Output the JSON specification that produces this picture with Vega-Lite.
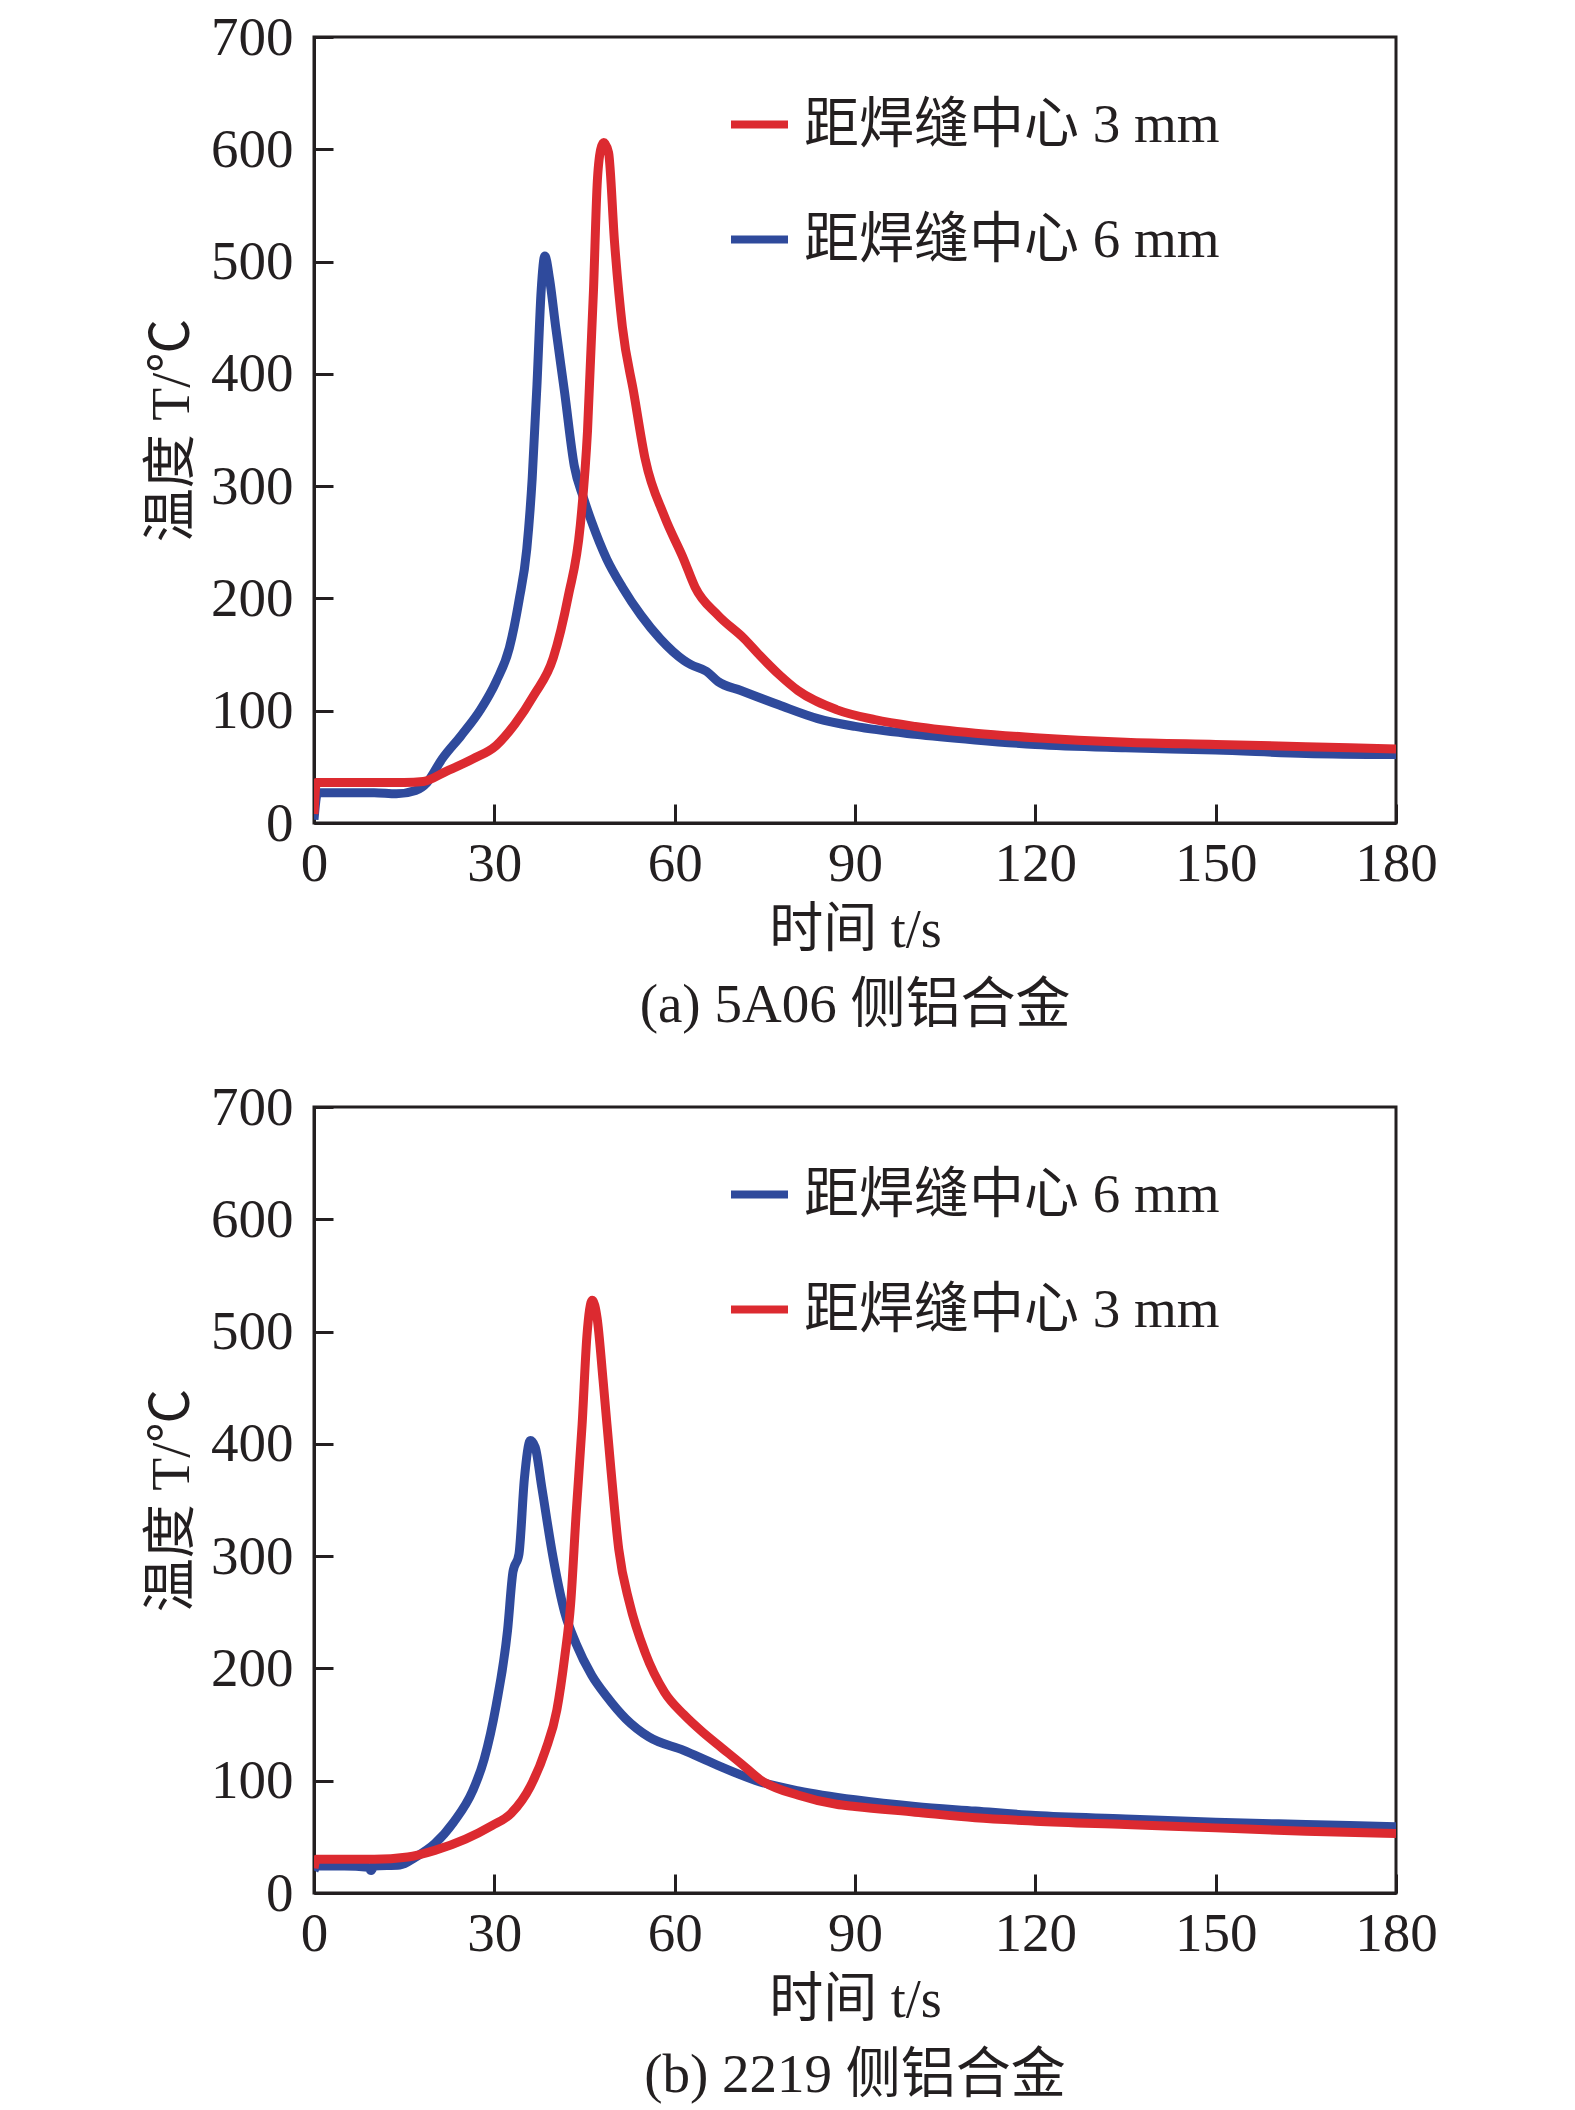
{
  "$schema": "https://vega.github.io/schema/vega-lite/v6.json",
  "background": "white",
  "padding": {"top": 8, "left": 144, "right": 10, "bottom": 5},
  "spacing": 43,
  "config": {
    "font": "Liberation Serif, Noto Sans CJK SC",
    "view": {"stroke": "#231f20", "strokeWidth": 3},
    "axis": {
      "grid": false,
      "zindex": 1,
      "domainColor": "#231f20",
      "domainWidth": 3,
      "tickColor": "#231f20",
      "tickWidth": 3,
      "tickSize": -19,
      "labelFont": "Liberation Serif",
      "labelFontSize": 55,
      "labelColor": "#231f20",
      "labelFlush": false,
      "labelOverlap": false,
      "titleFont": "Liberation Serif, Noto Sans CJK SC",
      "titleFontSize": 54,
      "titleFontWeight": "normal",
      "titleColor": "#231f20"
    },
    "legend": {
      "orient": "none",
      "legendX": 413,
      "legendY": 55,
      "symbolType": "stroke",
      "symbolStrokeWidth": 8,
      "symbolSize": 3249,
      "labelFont": "Liberation Serif, Noto Sans CJK SC",
      "labelFontSize": 55,
      "labelColor": "#231f20",
      "labelOffset": 12,
      "rowPadding": 54,
      "labelLimit": 0
    },
    "title": {
      "orient": "bottom",
      "offset": 22,
      "fontSize": 55,
      "fontWeight": "normal",
      "font": "Liberation Serif, Noto Sans CJK SC",
      "color": "#231f20",
      "anchor": "middle"
    }
  },
  "datasets": {
    "a": [
      {"s": "距焊缝中心 6 mm", "t": 0, "T": 3},
      {"s": "距焊缝中心 6 mm", "t": 0.6, "T": 27},
      {"s": "距焊缝中心 6 mm", "t": 5, "T": 27},
      {"s": "距焊缝中心 6 mm", "t": 10, "T": 27},
      {"s": "距焊缝中心 6 mm", "t": 13.7, "T": 26},
      {"s": "距焊缝中心 6 mm", "t": 16.9, "T": 29},
      {"s": "距焊缝中心 6 mm", "t": 18.8, "T": 36},
      {"s": "距焊缝中心 6 mm", "t": 21.3, "T": 57},
      {"s": "距焊缝中心 6 mm", "t": 24.5, "T": 78},
      {"s": "距焊缝中心 6 mm", "t": 27.7, "T": 101},
      {"s": "距焊缝中心 6 mm", "t": 30.3, "T": 126},
      {"s": "距焊缝中心 6 mm", "t": 32.5, "T": 156},
      {"s": "距焊缝中心 6 mm", "t": 34.1, "T": 198},
      {"s": "距焊缝中心 6 mm", "t": 35.4, "T": 244},
      {"s": "距焊缝中心 6 mm", "t": 36.3, "T": 307},
      {"s": "距焊缝中心 6 mm", "t": 37.1, "T": 391},
      {"s": "距焊缝中心 6 mm", "t": 37.8, "T": 475},
      {"s": "距焊缝中心 6 mm", "t": 38.4, "T": 505},
      {"s": "距焊缝中心 6 mm", "t": 39.2, "T": 484},
      {"s": "距焊缝中心 6 mm", "t": 40.2, "T": 442},
      {"s": "距焊缝中心 6 mm", "t": 41.7, "T": 383},
      {"s": "距焊缝中心 6 mm", "t": 43.3, "T": 318},
      {"s": "距焊缝中心 6 mm", "t": 44.8, "T": 290},
      {"s": "距焊缝中心 6 mm", "t": 46.2, "T": 268},
      {"s": "距焊缝中心 6 mm", "t": 48.7, "T": 235},
      {"s": "距焊缝中心 6 mm", "t": 51.3, "T": 210},
      {"s": "距焊缝中心 6 mm", "t": 54.4, "T": 185},
      {"s": "距焊缝中心 6 mm", "t": 57.6, "T": 164},
      {"s": "距焊缝中心 6 mm", "t": 61.5, "T": 145},
      {"s": "距焊缝中心 6 mm", "t": 62.7, "T": 141},
      {"s": "距焊缝中心 6 mm", "t": 65.3, "T": 135},
      {"s": "距焊缝中心 6 mm", "t": 67.2, "T": 126},
      {"s": "距焊缝中心 6 mm", "t": 71, "T": 118},
      {"s": "距焊缝中心 6 mm", "t": 77.4, "T": 105},
      {"s": "距焊缝中心 6 mm", "t": 83.8, "T": 93},
      {"s": "距焊缝中心 6 mm", "t": 90, "T": 86},
      {"s": "距焊缝中心 6 mm", "t": 100, "T": 79},
      {"s": "距焊缝中心 6 mm", "t": 110, "T": 74},
      {"s": "距焊缝中心 6 mm", "t": 120, "T": 70},
      {"s": "距焊缝中心 6 mm", "t": 135, "T": 67},
      {"s": "距焊缝中心 6 mm", "t": 150, "T": 65},
      {"s": "距焊缝中心 6 mm", "t": 165, "T": 62},
      {"s": "距焊缝中心 6 mm", "t": 180, "T": 61},
      {"s": "距焊缝中心 3 mm", "t": 0, "T": 8},
      {"s": "距焊缝中心 3 mm", "t": 0.4, "T": 36},
      {"s": "距焊缝中心 3 mm", "t": 5, "T": 36},
      {"s": "距焊缝中心 3 mm", "t": 10, "T": 36},
      {"s": "距焊缝中心 3 mm", "t": 15, "T": 36},
      {"s": "距焊缝中心 3 mm", "t": 18.2, "T": 37},
      {"s": "距焊缝中心 3 mm", "t": 22, "T": 46},
      {"s": "距焊缝中心 3 mm", "t": 26.4, "T": 57},
      {"s": "距焊缝中心 3 mm", "t": 30.3, "T": 69},
      {"s": "距焊缝中心 3 mm", "t": 33.4, "T": 88},
      {"s": "距焊缝中心 3 mm", "t": 36.6, "T": 114},
      {"s": "距焊缝中心 3 mm", "t": 39.8, "T": 147},
      {"s": "距焊缝中心 3 mm", "t": 42.3, "T": 202},
      {"s": "距焊缝中心 3 mm", "t": 44.3, "T": 265},
      {"s": "距焊缝中心 3 mm", "t": 45.5, "T": 349},
      {"s": "距焊缝中心 3 mm", "t": 46.5, "T": 475},
      {"s": "距焊缝中心 3 mm", "t": 47.1, "T": 568},
      {"s": "距焊缝中心 3 mm", "t": 47.7, "T": 600},
      {"s": "距焊缝中心 3 mm", "t": 48.2, "T": 606},
      {"s": "距焊缝中心 3 mm", "t": 49, "T": 597},
      {"s": "距焊缝中心 3 mm", "t": 50, "T": 517},
      {"s": "距焊缝中心 3 mm", "t": 51.3, "T": 442},
      {"s": "距焊缝中心 3 mm", "t": 53.2, "T": 383},
      {"s": "距焊缝中心 3 mm", "t": 55.1, "T": 324},
      {"s": "距焊缝中心 3 mm", "t": 58.3, "T": 273},
      {"s": "距焊缝中心 3 mm", "t": 61.5, "T": 235},
      {"s": "距焊缝中心 3 mm", "t": 63.4, "T": 210},
      {"s": "距焊缝中心 3 mm", "t": 67.2, "T": 185},
      {"s": "距焊缝中心 3 mm", "t": 71.6, "T": 164},
      {"s": "距焊缝中心 3 mm", "t": 74.2, "T": 149},
      {"s": "距焊缝中心 3 mm", "t": 77.4, "T": 132},
      {"s": "距焊缝中心 3 mm", "t": 80.5, "T": 118},
      {"s": "距焊缝中心 3 mm", "t": 86.9, "T": 101},
      {"s": "距焊缝中心 3 mm", "t": 93.3, "T": 92},
      {"s": "距焊缝中心 3 mm", "t": 100, "T": 86},
      {"s": "距焊缝中心 3 mm", "t": 110, "T": 80},
      {"s": "距焊缝中心 3 mm", "t": 120, "T": 76},
      {"s": "距焊缝中心 3 mm", "t": 135, "T": 72},
      {"s": "距焊缝中心 3 mm", "t": 150, "T": 70},
      {"s": "距焊缝中心 3 mm", "t": 165, "T": 68},
      {"s": "距焊缝中心 3 mm", "t": 180, "T": 66}
    ],
    "b": [
      {"s": "距焊缝中心 6 mm", "t": 0, "T": 20},
      {"s": "距焊缝中心 6 mm", "t": 0.5, "T": 24},
      {"s": "距焊缝中心 6 mm", "t": 5, "T": 24},
      {"s": "距焊缝中心 6 mm", "t": 9, "T": 23},
      {"s": "距焊缝中心 6 mm", "t": 9.5, "T": 20},
      {"s": "距焊缝中心 6 mm", "t": 10, "T": 24},
      {"s": "距焊缝中心 6 mm", "t": 14.3, "T": 25},
      {"s": "距焊缝中心 6 mm", "t": 16.9, "T": 32},
      {"s": "距焊缝中心 6 mm", "t": 20.1, "T": 44},
      {"s": "距焊缝中心 6 mm", "t": 23.2, "T": 63},
      {"s": "距焊缝中心 6 mm", "t": 26.4, "T": 91},
      {"s": "距焊缝中心 6 mm", "t": 28.3, "T": 119},
      {"s": "距焊缝中心 6 mm", "t": 30.3, "T": 167},
      {"s": "距焊缝中心 6 mm", "t": 32.2, "T": 234},
      {"s": "距焊缝中心 6 mm", "t": 33.1, "T": 286},
      {"s": "距焊缝中心 6 mm", "t": 34.1, "T": 302},
      {"s": "距焊缝中心 6 mm", "t": 35, "T": 369},
      {"s": "距焊缝中心 6 mm", "t": 36, "T": 403},
      {"s": "距焊缝中心 6 mm", "t": 36.8, "T": 397},
      {"s": "距焊缝中心 6 mm", "t": 37.9, "T": 361},
      {"s": "距焊缝中心 6 mm", "t": 39.8, "T": 298},
      {"s": "距焊缝中心 6 mm", "t": 41.7, "T": 250},
      {"s": "距焊缝中心 6 mm", "t": 43.6, "T": 222},
      {"s": "距焊缝中心 6 mm", "t": 46.2, "T": 194},
      {"s": "距焊缝中心 6 mm", "t": 48.7, "T": 175},
      {"s": "距焊缝中心 6 mm", "t": 51.9, "T": 155},
      {"s": "距焊缝中心 6 mm", "t": 55.7, "T": 139},
      {"s": "距焊缝中心 6 mm", "t": 61.5, "T": 127},
      {"s": "距焊缝中心 6 mm", "t": 66.6, "T": 115},
      {"s": "距焊缝中心 6 mm", "t": 74.2, "T": 99},
      {"s": "距焊缝中心 6 mm", "t": 80.6, "T": 91},
      {"s": "距焊缝中心 6 mm", "t": 90, "T": 83},
      {"s": "距焊缝中心 6 mm", "t": 100, "T": 77},
      {"s": "距焊缝中心 6 mm", "t": 110, "T": 73},
      {"s": "距焊缝中心 6 mm", "t": 120, "T": 69},
      {"s": "距焊缝中心 6 mm", "t": 135, "T": 66},
      {"s": "距焊缝中心 6 mm", "t": 150, "T": 63},
      {"s": "距焊缝中心 6 mm", "t": 165, "T": 61},
      {"s": "距焊缝中心 6 mm", "t": 180, "T": 59},
      {"s": "距焊缝中心 3 mm", "t": 0, "T": 22},
      {"s": "距焊缝中心 3 mm", "t": 0.4, "T": 30},
      {"s": "距焊缝中心 3 mm", "t": 5, "T": 30},
      {"s": "距焊缝中心 3 mm", "t": 10, "T": 30},
      {"s": "距焊缝中心 3 mm", "t": 15.6, "T": 32},
      {"s": "距焊缝中心 3 mm", "t": 20.1, "T": 38},
      {"s": "距焊缝中心 3 mm", "t": 25.2, "T": 48},
      {"s": "距焊缝中心 3 mm", "t": 29.6, "T": 60},
      {"s": "距焊缝中心 3 mm", "t": 32.8, "T": 71},
      {"s": "距焊缝中心 3 mm", "t": 36, "T": 95},
      {"s": "距焊缝中心 3 mm", "t": 38.5, "T": 127},
      {"s": "距焊缝中心 3 mm", "t": 40.4, "T": 163},
      {"s": "距焊缝中心 3 mm", "t": 41.7, "T": 210},
      {"s": "距焊缝中心 3 mm", "t": 42.7, "T": 258},
      {"s": "距焊缝中心 3 mm", "t": 43.6, "T": 337},
      {"s": "距焊缝中心 3 mm", "t": 44.6, "T": 417},
      {"s": "距焊缝中心 3 mm", "t": 45.4, "T": 496},
      {"s": "距焊缝中心 3 mm", "t": 46.3, "T": 528},
      {"s": "距焊缝中心 3 mm", "t": 47.1, "T": 512},
      {"s": "距焊缝中心 3 mm", "t": 48.1, "T": 456},
      {"s": "距焊缝中心 3 mm", "t": 49.4, "T": 377},
      {"s": "距焊缝中心 3 mm", "t": 50.7, "T": 306},
      {"s": "距焊缝中心 3 mm", "t": 52.5, "T": 258},
      {"s": "距焊缝中心 3 mm", "t": 55.1, "T": 214},
      {"s": "距焊缝中心 3 mm", "t": 58.3, "T": 179},
      {"s": "距焊缝中心 3 mm", "t": 61.5, "T": 159},
      {"s": "距焊缝中心 3 mm", "t": 64.7, "T": 143},
      {"s": "距焊缝中心 3 mm", "t": 67.9, "T": 129},
      {"s": "距焊缝中心 3 mm", "t": 71.1, "T": 115},
      {"s": "距焊缝中心 3 mm", "t": 74.2, "T": 101},
      {"s": "距焊缝中心 3 mm", "t": 80.6, "T": 87},
      {"s": "距焊缝中心 3 mm", "t": 86.9, "T": 79},
      {"s": "距焊缝中心 3 mm", "t": 90, "T": 77},
      {"s": "距焊缝中心 3 mm", "t": 100, "T": 72},
      {"s": "距焊缝中心 3 mm", "t": 110, "T": 67},
      {"s": "距焊缝中心 3 mm", "t": 120, "T": 64},
      {"s": "距焊缝中心 3 mm", "t": 135, "T": 61},
      {"s": "距焊缝中心 3 mm", "t": 150, "T": 58},
      {"s": "距焊缝中心 3 mm", "t": 165, "T": 55},
      {"s": "距焊缝中心 3 mm", "t": 180, "T": 53}
    ]
  },
  "resolve": {"scale": {"color": "independent"}, "legend": {"color": "independent"}},
  "vconcat": [
    {
      "width": 1082,
      "height": 786,
      "title": "(a) 5A06 侧铝合金",
      "data": {"name": "a"},
      "mark": {"type": "line", "strokeWidth": 9, "interpolate": "monotone", "clip": true},
      "encoding": {
        "x": {
          "field": "t", "type": "quantitative",
          "scale": {"domain": [0, 180], "nice": false},
          "axis": {"title": "时间 t/s", "values": [0, 30, 60, 90, 120, 150, 180], "labelPadding": 33, "titlePadding": 12}
        },
        "y": {
          "field": "T", "type": "quantitative",
          "scale": {"domain": [0, 700], "nice": false},
          "axis": {"title": "温度 T/℃", "values": [0, 100, 200, 300, 400, 500, 600, 700], "labelPadding": 40, "titlePadding": 11}
        },
        "color": {
          "field": "s", "type": "nominal",
          "scale": {"domain": ["距焊缝中心 3 mm", "距焊缝中心 6 mm"], "range": ["#dc2a30", "#2f4a9c"]},
          "legend": {"title": null}
        }
      }
    },
    {
      "width": 1082,
      "height": 786,
      "title": "(b) 2219 侧铝合金",
      "data": {"name": "b"},
      "mark": {"type": "line", "strokeWidth": 9, "interpolate": "monotone", "clip": true},
      "encoding": {
        "x": {
          "field": "t", "type": "quantitative",
          "scale": {"domain": [0, 180], "nice": false},
          "axis": {"title": "时间 t/s", "values": [0, 30, 60, 90, 120, 150, 180], "labelPadding": 33, "titlePadding": 12}
        },
        "y": {
          "field": "T", "type": "quantitative",
          "scale": {"domain": [0, 700], "nice": false},
          "axis": {"title": "温度 T/℃", "values": [0, 100, 200, 300, 400, 500, 600, 700], "labelPadding": 40, "titlePadding": 11}
        },
        "color": {
          "field": "s", "type": "nominal",
          "scale": {"domain": ["距焊缝中心 6 mm", "距焊缝中心 3 mm"], "range": ["#2f4a9c", "#dc2a30"]},
          "legend": {"title": null}
        }
      }
    }
  ]
}
